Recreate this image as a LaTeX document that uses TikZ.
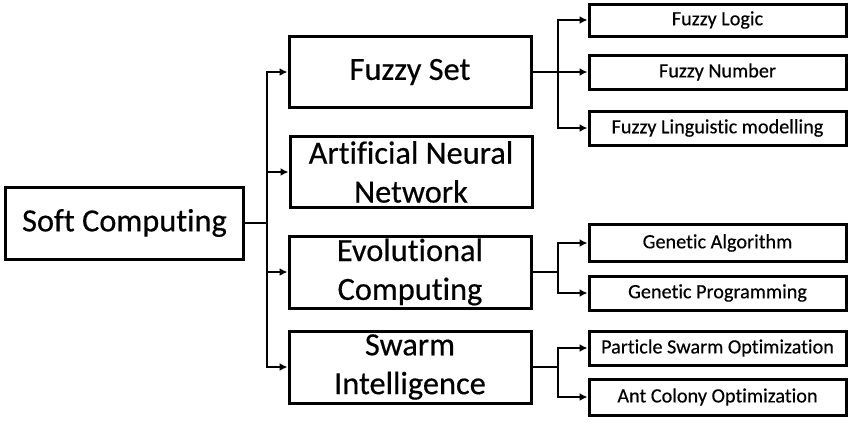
\documentclass[tikz,border=0pt]{standalone}
\usepackage{fontspec}
\setmainfont{Carlito}[Ligatures=NoCommon,FakeBold=0.4]
\usetikzlibrary{arrows.meta}
\begin{document}
\begin{tikzpicture}[x=1bp,y=-1bp,
  bigbox/.style={draw,line width=3bp,inner sep=0pt,align=center,
    minimum width=242bp,minimum height=71bp,font=\fontsize{32.5}{39}\selectfont},
  smallbox/.style={draw,line width=3bp,inner sep=0pt,
    minimum width=257bp,minimum height=34bp,font=\fontsize{20.3}{23}\selectfont},
  conn/.style={line width=2bp},
  arr/.style={line width=2bp,-{Latex[length=8bp,width=8bp]}}]
\useasboundingbox (0,0) rectangle (850,425);
\node[bigbox,minimum width=237bp,minimum height=72bp] (soft) at (124.5,223) {Soft Computing};
\node[bigbox] (fs) at (410,72) {Fuzzy Set};
\node[bigbox] (ann) at (411,172) {Artificial Neural\\Network};
\node[bigbox,minimum height=72bp] (ec) at (410,272) {Evolutional\\Computing};
\node[bigbox,minimum height=72bp] (si) at (410,367) {Swarm\\Intelligence};
\node[smallbox,minimum height=32bp] (fl) at (717.5,20) {Fuzzy Logic};
\node[smallbox] (fn) at (717.5,72) {Fuzzy Number};
\node[smallbox] (flm) at (717.5,128) {Fuzzy Linguistic modelling};
\node[smallbox,minimum height=37bp] (ga) at (717.5,243) {Genetic Algorithm};
\node[smallbox] (gp) at (717.5,293) {Genetic Programming};
\node[smallbox] (pso) at (717.5,348) {Particle Swarm Optimization};
\node[smallbox,minimum height=36bp] (aco) at (717.5,397) {Ant Colony Optimization};
\coordinate (t) at (267,223);
\coordinate (b1) at (558,72);
\coordinate (b2) at (558,272);
\coordinate (b3) at (558,367);
\draw[conn] (soft.east) -- (t);
\draw[arr] (t) |- (fs.west);
\draw[arr] (t) |- (ann.west);
\draw[arr] (t) |- (ec.west);
\draw[arr] (t) |- (si.west);
\draw[conn] (fs.east) -- (b1);
\draw[arr] (b1) |- (fl.west);
\draw[arr] (b1) -- (fn.west);
\draw[arr] (b1) |- (flm.west);
\draw[conn] (ec.east) -- (b2);
\draw[arr] (b2) |- (ga.west);
\draw[arr] (b2) |- (gp.west);
\draw[conn] (si.east) -- (b3);
\draw[arr] (b3) |- (pso.west);
\draw[arr] (b3) |- (aco.west);
\end{tikzpicture}
\end{document}
